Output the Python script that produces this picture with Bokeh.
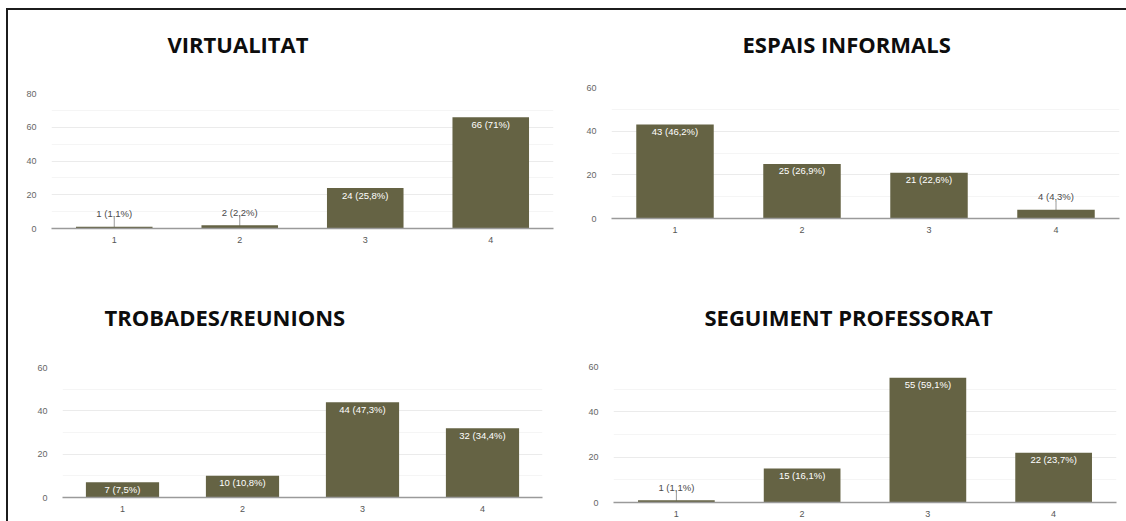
import math

from bokeh.core.properties import value
from bokeh.embed import file_html
from bokeh.layouts import column, row
from bokeh.models import ColumnDataSource, FactorRange, FixedTicker, Range1d, Title
from bokeh.plotting import figure
from bokeh.resources import INLINE

# ---- data -------------------------------------------------------------
categories = ["1", "2", "3", "4"]

virtualitat_counts = [1, 2, 24, 66]
virtualitat_pcts = ["1,1%", "2,2%", "25,8%", "71%"]

espais_counts = [43, 25, 21, 4]
espais_pcts = ["46,2%", "26,9%", "22,6%", "4,3%"]

trobades_counts = [7, 10, 44, 32]
trobades_pcts = ["7,5%", "10,8%", "47,3%", "34,4%"]

seguiment_counts = [1, 15, 55, 22]
seguiment_pcts = ["1,1%", "16,1%", "59,1%", "23,7%"]

titles = ["VIRTUALITAT", "ESPAIS INFORMALS", "TROBADES/REUNIONS", "SEGUIMENT PROFESSORAT"]
y_max = [80, 60, 60, 60]

# ---- styling ----------------------------------------------------------
BAR = "#656344"
TICK_FONT = "Liberation Sans"
TITLE_FONT = "Open Sans"

# width, height, border left/right/top/bottom, title offset, gap under title
geometry = [
    (557, 252, 43, 12, 83, 34, 116, 32),
    (561, 252, 46, 7, 77, 44, 131, 26),
    (557, 259, 54, 23, 105, 24, 42, 33),
    (561, 259, 48, 10, 104, 19, 91, 32),
]


def make_panel(title, counts, pcts, ymax, geom):
    W, H, bl, br, bt, bb, toff, gap = geom
    p = figure(
        x_range=FactorRange(*categories),
        y_range=Range1d(0, ymax),
        width=W, height=H,
        min_border_left=bl, min_border_right=br,
        min_border_top=bt, min_border_bottom=bb,
        frame_align=False,
        output_backend="svg", toolbar_location=None, tools="",
    )
    # blank spacer between the frame and the heading
    p.add_layout(Title(text=" ", text_font_size="1px", standoff=gap), "above")
    p.add_layout(Title(text=title, align="left", offset=toff, standoff=0,
                       text_font=TITLE_FONT, text_font_size="22px",
                       text_font_style="bold", text_color="#0d0d0d"), "above")

    frame_h = H - bt - bb
    px_per_unit = frame_h / ymax
    labels = [f"{c} ({q})" for c, q in zip(counts, pcts)]
    inside = [c * px_per_unit >= 12 for c in counts]

    src_in = ColumnDataSource(dict(
        x=[k for k, f in zip(categories, inside) if f],
        y=[c for c, f in zip(counts, inside) if f],
        t=[s for s, f in zip(labels, inside) if f]))
    src_out = ColumnDataSource(dict(
        x=[k for k, f in zip(categories, inside) if not f],
        y=[c for c, f in zip(counts, inside) if not f],
        t=[s for s, f in zip(labels, inside) if not f]))

    # leader ticks for labels that sit above short bars
    p.scatter(x="x", y="y", source=src_out, marker="dash", angle=math.pi / 2,
              size=18, line_color="#9a9a9a", line_width=1)

    p.vbar(x=categories, top=counts, width=0.61, fill_color=BAR, line_color=None)

    p.text(x="x", y="y", text="t", source=src_in, text_align="center",
           text_baseline="middle", y_offset=7, text_color="white",
           text_font=value(TICK_FONT), text_font_size="9.5px")
    p.text(x="x", y="y", text="t", source=src_out, text_align="center",
           text_baseline="middle", y_offset=-13, text_color="#4a4a4a",
           text_font=value(TICK_FONT), text_font_size="9.5px")

    p.outline_line_color = None
    p.xgrid.grid_line_color = None
    p.ygrid.grid_line_color = "#ebebeb"
    p.ygrid.minor_grid_line_color = "#f5f5f5"

    p.yaxis.ticker = FixedTicker(ticks=list(range(0, ymax + 1, 20)),
                                 minor_ticks=list(range(10, ymax, 20)))
    p.yaxis.axis_line_color = None
    p.yaxis.major_tick_line_color = None
    p.yaxis.minor_tick_line_color = None
    p.yaxis.major_label_standoff = 9
    p.yaxis.major_label_text_font = TICK_FONT
    p.yaxis.major_label_text_font_size = "9px"
    p.yaxis.major_label_text_color = "#666666"

    p.xaxis.axis_line_color = "#9a9a9a"
    p.xaxis.axis_line_width = 1.5
    p.xaxis.major_tick_line_color = None
    p.xaxis.minor_tick_line_color = None
    p.xaxis.major_label_standoff = 2
    p.xaxis.major_label_text_font = TICK_FONT
    p.xaxis.major_label_text_font_size = "9px"
    p.xaxis.major_label_text_color = "#555555"
    return p


series = [
    (virtualitat_counts, virtualitat_pcts),
    (espais_counts, espais_pcts),
    (trobades_counts, trobades_pcts),
    (seguiment_counts, seguiment_pcts),
]
panels = [make_panel(t, c, q, m, g)
          for t, (c, q), m, g in zip(titles, series, y_max, geometry)]

layout = column(
    row(panels[0], panels[1]),
    row(panels[2], panels[3]),
    margin=(8, 0, 0, 6),
    styles={"border-top": "2px solid #1c1c1c", "border-left": "2px solid #1c1c1c",
            "background": "white"},
)

open("out.html", "w").write(file_html(layout, INLINE))
